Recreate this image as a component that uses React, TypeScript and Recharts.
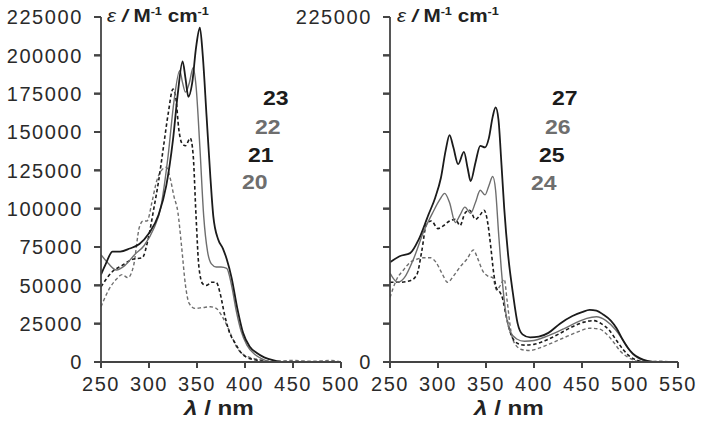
import { LineChart, Line, XAxis, YAxis } from "recharts";

// left panel: compounds 20-23
const wl20 = [250, 258, 266, 272, 278, 284, 290, 294, 298, 303, 308, 313, 318, 322, 326, 330, 334, 338, 342, 348, 356, 364, 370, 376, 381, 386, 392, 398, 405, 415, 430, 450, 470, 490, 500];
const eps20 = [36000, 47000, 54000, 57000, 55000, 63000, 88000, 92000, 92000, 104000, 118000, 125000, 127000, 120000, 108000, 98000, 75000, 50000, 38000, 35000, 35500, 36000, 35000, 30000, 24000, 17000, 9000, 5000, 3000, 1500, 500, 1000, 500, 1000, 0];

const wl21 = [250, 262, 272, 283, 293, 299, 305, 310, 315, 320, 325, 328, 331, 334, 338, 343, 346, 349, 352, 356, 360, 365, 370, 374, 379, 384, 390, 396, 402, 410, 420, 430, 500];
const eps21 = [49000, 59000, 63000, 67000, 68000, 80000, 100000, 118000, 140000, 162000, 178000, 172000, 152000, 143000, 141000, 146000, 135000, 95000, 62000, 51000, 50000, 52000, 52000, 45000, 30000, 19000, 12000, 6000, 3000, 1500, 500, 0, 0];

const wl22 = [250, 258, 266, 275, 285, 295, 305, 312, 320, 326, 332, 335, 338, 342, 346, 349, 353, 357, 361, 365, 370, 375, 381, 386, 391, 396, 402, 410, 418, 428, 500];
const eps22 = [70000, 64000, 60000, 63000, 70000, 76000, 87000, 100000, 135000, 170000, 190000, 182000, 176000, 182000, 192000, 180000, 140000, 95000, 72000, 64000, 62000, 62000, 61000, 50000, 33000, 20000, 11000, 5000, 2000, 0, 0];

const wl23 = [250, 255, 262, 270, 280, 290, 300, 310, 318, 325, 330, 335, 338, 341, 345, 349, 353, 356, 360, 364, 367, 372, 377, 381, 386, 392, 398, 405, 412, 420, 430, 440, 500];
const eps23 = [57000, 64000, 72000, 72000, 74000, 77000, 84000, 96000, 115000, 145000, 175000, 196000, 185000, 173000, 182000, 205000, 218000, 200000, 160000, 120000, 95000, 80000, 74000, 67000, 55000, 35000, 19000, 10000, 6000, 3000, 1000, 0, 0];

// right panel: compounds 24-27
const wl24 = [250, 257, 264, 271, 278, 285, 292, 298, 304, 310, 316, 323, 330, 337, 341, 347, 352, 357, 361, 365, 369, 372, 376, 381, 388, 396, 405, 417, 430, 445, 458, 468, 476, 484, 490, 497, 505, 515, 530, 545];
const eps24 = [42000, 54000, 60000, 65000, 67000, 68000, 68000, 65000, 58000, 52000, 56000, 62000, 67000, 73000, 68000, 59000, 56000, 55000, 47000, 50000, 54000, 40000, 20000, 11000, 8000, 7500, 9000, 12000, 15500, 19500, 22000, 21500, 18000, 12000, 7000, 3500, 1000, 0, 500, 0];

const wl25 = [250, 260, 271, 278, 283, 288, 293, 300, 306, 312, 318, 323, 328, 333, 339, 344, 348, 352, 355, 358, 361, 364, 367, 371, 376, 382, 390, 400, 412, 425, 440, 452, 462, 470, 478, 486, 493, 500, 508, 518, 550];
const eps25 = [52000, 52000, 53000, 57000, 72000, 90000, 92000, 87000, 89000, 92000, 93000, 89000, 97000, 99000, 93000, 96000, 99000, 90000, 75000, 58000, 48000, 46000, 42000, 30000, 18000, 12500, 11000, 11500, 14000, 18000, 23000, 26000, 27000, 25000, 21000, 14000, 8000, 3500, 1000, 0, 0];

const wl26 = [250, 258, 265, 275, 285, 295, 302, 307, 312, 318, 323, 328, 334, 339, 344, 349, 353, 357, 360, 363, 366, 370, 375, 382, 390, 400, 410, 420, 432, 445, 455, 465, 475, 485, 495, 503, 510, 520, 530, 550];
const eps26 = [58000, 52000, 55000, 68000, 85000, 98000, 106000, 110000, 104000, 91000, 96000, 101000, 97000, 104000, 112000, 109000, 115000, 121000, 112000, 85000, 60000, 35000, 20000, 15000, 13500, 14000, 16000, 18500, 22000, 26000, 28500, 29500, 27000, 21000, 12000, 5000, 2000, 300, 0, 0];

const wl27 = [250, 260, 271, 280, 290, 297, 303, 308, 312, 316, 321, 327, 331, 334, 339, 344, 349, 353, 357, 360, 363, 366, 369, 373, 378, 383, 388, 396, 405, 415, 427, 440, 450, 458, 465, 472, 480, 486, 492, 498, 503, 510, 518, 530, 550];
const eps27 = [65000, 69000, 71000, 80000, 96000, 107000, 120000, 138000, 148000, 140000, 129000, 137000, 126000, 118000, 130000, 141000, 140000, 146000, 160000, 166000, 158000, 130000, 100000, 70000, 45000, 25000, 18000, 16000, 16500, 19000, 25000, 30000, 32500, 34000, 33500, 31000, 27000, 22000, 15000, 9000, 5500, 2500, 800, 0, 0];

const yTicks = [0, 25000, 50000, 75000, 100000, 125000, 150000, 175000, 200000, 225000];
const xTicksLeft = [250, 300, 350, 400, 450, 500];
const xTicksRight = [250, 300, 350, 400, 450, 500, 550];

const zip = (xs: number[], ys: number[]) => xs.map((x, i) => ({ x, y: ys[i] }));

const FONT = '"Liberation Sans", Arial, sans-serif';
const AXIS = "#444";
const BLACK = "#1b1b1b";
const GRAY = "#6e6e6e";
const H = 423;
const TOP = 17;
const BOTTOM = 16;
const XH = 45;
const AXIS_Y = H - BOTTOM - XH;

const YTick = (props: any) => {
  const { y, payload, showAll, axisX } = props;
  const v = payload.value;
  return (
    <g>
      <line x1={axisX - 7} x2={axisX} y1={y} y2={y} stroke={AXIS} strokeWidth={2} />
      {(showAll || v === 0 || v === 225000) && (
        <text x={axisX - 18} y={y} dy="0.36em" textAnchor="end" fontFamily={FONT} fontSize={20} letterSpacing={1.6} fill="#2a2a2a">
          {v}
        </text>
      )}
    </g>
  );
};

const XTick = (props: any) => {
  const { x, payload } = props;
  return (
    <g>
      <line x1={x} x2={x} y1={AXIS_Y} y2={AXIS_Y + 6} stroke={AXIS} strokeWidth={2} />
      <text x={x} y={AXIS_Y + 15} dy="0.71em" textAnchor="middle" fontFamily={FONT} fontSize={20} letterSpacing={1.6} fill="#2a2a2a">
        {payload.value}
      </text>
    </g>
  );
};

type S = { wl: number[]; eps: number[]; color: string; dash?: string; w: number };

const leftSeries: S[] = [
  { wl: wl20, eps: eps20, color: GRAY, dash: "3.5 2.5", w: 1.4 },
  { wl: wl21, eps: eps21, color: BLACK, dash: "3.5 2.5", w: 1.6 },
  { wl: wl22, eps: eps22, color: GRAY, w: 1.4 },
  { wl: wl23, eps: eps23, color: BLACK, w: 1.8 },
];
const rightSeries: S[] = [
  { wl: wl24, eps: eps24, color: GRAY, dash: "3.5 2.5", w: 1.4 },
  { wl: wl25, eps: eps25, color: BLACK, dash: "3.5 2.5", w: 1.6 },
  { wl: wl26, eps: eps26, color: GRAY, w: 1.4 },
  { wl: wl27, eps: eps27, color: BLACK, w: 1.8 },
];

const Panel = ({ series, xMax, xTicks, showAll, width, left, yWidth }: any) => {
  const axisX = 6 + yWidth;
  return (
    <div style={{ position: "absolute", left, top: 0 }}>
      <LineChart width={width} height={H} margin={{ top: TOP, right: width - axisX - (xMax - 250) * 0.96, bottom: BOTTOM, left: 6 }}>
        <XAxis
          type="number"
          dataKey="x"
          domain={[250, xMax]}
          ticks={xTicks}
          allowDataOverflow
          height={XH}
          tickSize={6}
          axisLine={{ stroke: AXIS, strokeWidth: 1.8 }}
          tickLine={{ stroke: AXIS, strokeWidth: 2 }}
          tick={<XTick />}
          interval={0}
        />
        <YAxis
          type="number"
          domain={[0, 225000]}
          ticks={yTicks}
          width={yWidth}
          tickSize={7}
          axisLine={{ stroke: AXIS, strokeWidth: 1.8 }}
          tickLine={{ stroke: AXIS, strokeWidth: 2 }}
          tick={<YTick showAll={showAll} axisX={axisX} />}
          interval={0}
        />
        {series.map((s: S, i: number) => (
          <Line
            key={i}
            data={zip(s.wl, s.eps)}
            dataKey="y"
            type="monotone"
            stroke={s.color}
            strokeWidth={s.w}
            strokeDasharray={s.dash}
            dot={false}
            isAnimationActive={false}
          />
        ))}
      </LineChart>
    </div>
  );
};

const txt = (extra: any) => ({
  position: "absolute" as const,
  fontFamily: FONT,
  fontWeight: 700,
  whiteSpace: "nowrap" as const,
  transform: "scaleX(1.15)",
  transformOrigin: "left center",
  ...extra,
});

const EpsLabel = ({ left }: { left: number }) => (
  <div style={txt({ left, top: 2, fontSize: 18, lineHeight: "18px", color: "#222" })}>
    <i style={{ fontWeight: 400 }}>ε</i> <i>/</i> M<sup style={{ fontSize: 11 }}>-1</sup> cm<sup style={{ fontSize: 11 }}>-1</sup>
  </div>
);

const LamLabel = ({ left }: { left: number }) => (
  <div style={txt({ left, top: 397, fontSize: 21, lineHeight: "21px", color: "#222" })}>
    <i>λ</i> / nm
  </div>
);

const Num = ({ left, top, color, children }: any) => (
  <div style={txt({ left, top, fontSize: 20, lineHeight: "20px", color })}>{children}</div>
);

export default function App() {
  return (
    <div style={{ position: "absolute", left: 0, top: 0, width: 706, height: H, background: "#fff", overflow: "hidden" }}>
      <Panel series={leftSeries} xMax={500} xTicks={xTicksLeft} showAll width={360} left={0} yWidth={95} />
      <Panel series={rightSeries} xMax={550} xTicks={xTicksRight} showAll={false} width={426} left={280} yWidth={104} />
      <EpsLabel left={107} />
      <EpsLabel left={397} />
      <LamLabel left={184} />
      <LamLabel left={474} />
      <Num left={263} top={88} color={BLACK}>23</Num>
      <Num left={255} top={117} color={GRAY}>22</Num>
      <Num left={248} top={145} color={BLACK}>21</Num>
      <Num left={242} top={172} color={GRAY}>20</Num>
      <Num left={552} top={88} color={BLACK}>27</Num>
      <Num left={545} top={117} color={GRAY}>26</Num>
      <Num left={539} top={145} color={BLACK}>25</Num>
      <Num left={531} top={173} color={GRAY}>24</Num>
    </div>
  );
}
